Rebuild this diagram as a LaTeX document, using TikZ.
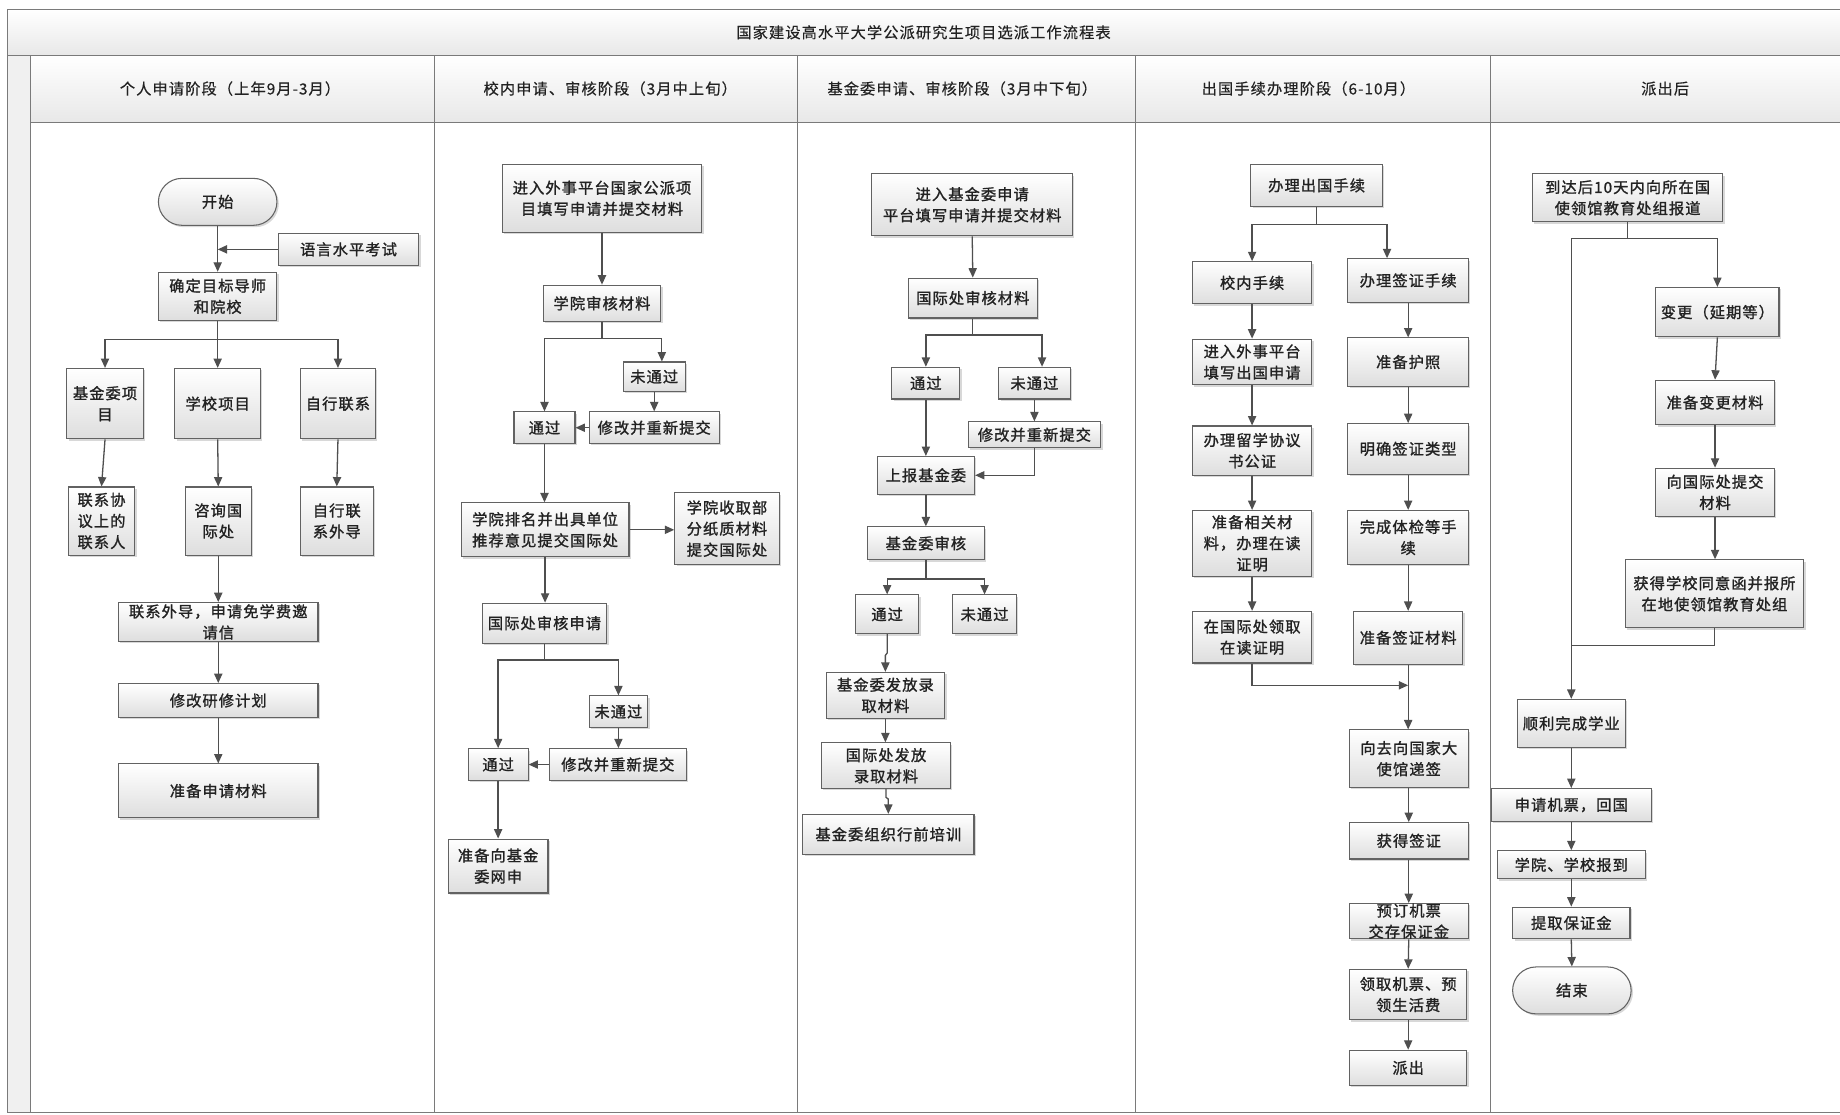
\documentclass[tikz,border=0pt]{standalone}
\usepackage{fontspec}
\setmainfont{Noto Sans CJK SC}
\newfontfamily\bxfont[LetterSpace=7,FakeBold=1.3]{Noto Sans CJK SC}
\newfontfamily\hdfont[LetterSpace=7,FakeBold=0.4]{Noto Sans CJK SC}
\usetikzlibrary{arrows.meta,shadows,calc}
\definecolor{linec}{HTML}{4F4F4F}
\definecolor{borderc}{HTML}{626262}
\definecolor{textc}{HTML}{222222}
\definecolor{stripc}{HTML}{F0F0F0}
\definecolor{framec}{HTML}{7A7A7A}
\tikzset{
  txt/.style={font=\bxfont\fontsize{13}{18}\selectfont, text=textc, align=center, inner sep=0pt},
  box/.style={txt, draw=borderc, line width=0.9pt, top color=white, bottom color=black!13,
    drop shadow={shadow xshift=1.6pt, shadow yshift=-1.6pt, opacity=0.25, fill=black!60}},
  sz/.style 2 args={minimum width=#1pt, minimum height=#2pt},
  term/.style={box, rounded corners=20pt},
  arr/.style={draw=linec, line width=1.1pt, -{Triangle[length=8pt,width=7pt]}},
  ln/.style={draw=linec, line width=1.1pt},
  frm/.style={draw=framec, line width=0.9pt},
  hdr/.style={txt, font=\hdfont\fontsize{13}{18}\selectfont},
}
\begin{document}
\begin{tikzpicture}[x=1pt,y=-1pt]
\useasboundingbox (0,0) rectangle (1568,950);
\clip (0,0) rectangle (1568,950);
\fill[white] (0,0) rectangle (1568,950);
% frame
\fill[stripc] (6,47) rectangle (26,948);
\shade[top color=white, bottom color=black!9] (6,8) rectangle (1580,47);
\shade[top color=white, bottom color=black!9] (26,47) rectangle (1580,104);
\draw[frm] (6,8) rectangle (1580,948);
\draw[frm] (6,47) -- (1580,47);
\draw[frm] (26,104) -- (1580,104);
\draw[frm] (26,47) -- (26,948);
\foreach \x in {370,680,968,1270.5} \draw[frm] (\x,47) -- (\x,948);
\node[hdr] (title) at (787,27.5) {国家建设高水平大学公派研究生项目选派工作流程表};
\node[hdr] (h1) at (196,75.5) {个人申请阶段（上年9月-3月）};
\node[hdr] (h2) at (520,75.5) {校内申请、审核阶段（3月中上旬）};
\node[hdr] (h3) at (820,75.5) {基金委申请、审核阶段（3月中下旬）};
\node[hdr] (h4) at (1115,75.5) {出国手续办理阶段（6-10月）};
\node[hdr] (h5) at (1419,75.5) {派出后};

% ---------- lane 1
\node[term, sz={101}{40}] (start) at (185.5,172) {开始};
\node[box, sz={120}{27}] (lang) at (297,212.5) {语言水平考试};
\node[box, sz={101}{41}] (target) at (185.5,252.5) {确定目标导师\\和院校};
\node[box, sz={65}{60}] (fund1) at (89.5,344) {基金委项\\目};
\node[box, sz={73}{60}] (school1) at (185.5,344) {学校项目};
\node[box, sz={64}{60}] (self1) at (288,344) {自行联系};
\node[box, sz={57}{58}] (contact1) at (86.5,444) {联系协\\议上的\\联系人};
\node[box, sz={56}{58}] (consult1) at (186,444) {咨询国\\际处};
\node[box, sz={62}{58}] (selfc1) at (287,444) {自行联\\系外导};
\node[box, sz={170}{33}] (outreach1) at (186,530) {联系外导，申请免学费邀\\请信};
\node[box, sz={170}{29}] (plan1) at (186,597) {修改研修计划};
\node[box, sz={170}{46}] (prep1) at (186,674) {准备申请材料};

\draw[arr] (start.south) -- (target.north);
\draw[arr] (lang.west) -- (start.south |- lang.west);
\draw[arr] (target.south) -- ++(0,16) -| (fund1.north);
\draw[arr] (target.south) -- (school1.north);
\draw[arr] (target.south) -- ++(0,16) -| (self1.north);
\draw[arr] (fund1.south) -- (contact1.north);
\draw[arr] (school1.south) -- (consult1.north);
\draw[arr] (self1.south) -- (selfc1.north);
\draw[arr] (consult1.south) -- (outreach1.north);
\draw[arr] (outreach1.south) -- (plan1.north);
\draw[arr] (plan1.south) -- (prep1.north);

% ---------- lane 2
\node[box, sz={170}{58}] (apply2) at (513,169) {进入外事平台国家公派项\\目填写申请并提交材料};
\node[box, sz={100}{31}] (review2) at (513,258.5) {学院审核材料};
\node[box, sz={53}{25}] (fail2a) at (557.5,321) {未通过};
\node[box, sz={52}{27}] (pass2a) at (464,364.5) {通过};
\node[box, sz={111}{27}] (fix2a) at (557.5,364.5) {修改并重新提交};
\node[box, sz={143}{46}] (rank2) at (464.5,451.5) {学院排名并出具单位\\推荐意见提交国际处};
\node[box, sz={89}{61}] (paper2) at (619.5,450.5) {学院收取部\\分纸质材料\\提交国际处};
\node[box, sz={106}{34}] (intl2) at (464,531) {国际处审核申请};
\node[box, sz={50}{27}] (fail2b) at (527,606.5) {未通过};
\node[box, sz={51}{27}] (pass2b) at (424.5,651.5) {通过};
\node[box, sz={117}{27}] (fix2b) at (526.5,651.5) {修改并重新提交};
\node[box, sz={85}{46}] (prep2) at (424.5,738) {准备向基金\\委网申};

\draw[arr] (apply2.south) -- (review2.north);
\draw[arr] (review2.south) -- ++(0,14) -| (pass2a.north);
\draw[arr] (review2.south) -- ++(0,14) -| ([xshift=6.5pt]fail2a.north);
\draw[arr] (fail2a.south) -- (fix2a.north);
\draw[arr] (fix2a.west) -- (pass2a.east);
\draw[arr] (pass2a.south) -- (pass2a.south |- rank2.north);
\draw[arr] (rank2.east) -- (rank2.east -| paper2.west);
\draw[arr] (rank2.south) -- (rank2.south |- intl2.north);
\draw[arr] (intl2.south) -- ++(0,14) -| (pass2b.north);
\draw[arr] (intl2.south) -- ++(0,14) -| (fail2b.north);
\draw[arr] (fail2b.south) -- (fail2b.south |- fix2b.north);
\draw[arr] (fix2b.west) -- (pass2b.east);
\draw[arr] (pass2b.south) -- (prep2.north);

% ---------- lane 3
\node[box, sz={171}{53}] (apply3) at (828.5,174.5) {进入基金委申请\\平台填写申请并提交材料};
\node[box, sz={110}{34}] (review3) at (829,254) {国际处审核材料};
\node[box, sz={58}{27}] (pass3a) at (789,326.5) {通过};
\node[box, sz={61}{27}] (fail3a) at (881.5,326.5) {未通过};
\node[box, sz={113}{22}] (fix3a) at (881.5,370.5) {修改并重新提交};
\node[box, sz={83}{32}] (report3) at (789,405) {上报基金委};
\node[box, sz={100}{28}] (fundrev3) at (789,463) {基金委审核};
\node[box, sz={54}{33}] (pass3b) at (756,523.5) {通过};
\node[box, sz={54}{33}] (fail3b) at (839,523.5) {未通过};
\node[box, sz={101}{39}] (issue3) at (754.5,592.5) {基金委发放录\\取材料};
\node[box, sz={110}{39}] (intl3) at (755,652.5) {国际处发放\\录取材料};
\node[box, sz={146}{34}] (train3) at (757,711) {基金委组织行前培训};

\draw[arr] (apply3.south) -- (review3.north);
\draw[arr] (review3.south) -- ++(0,14) -| (pass3a.north);
\draw[arr] (review3.south) -- ++(0,14) -| ([xshift=6.5pt]fail3a.north);
\draw[arr] (fail3a.south) -- (fix3a.north);
\draw[arr] (pass3a.south) -- (report3.north);
\draw[arr] (fix3a.south) |- (report3.east);
\draw[arr] (report3.south) -- (fundrev3.north);
\draw[arr] (fundrev3.south) -- ++(0,16) -| (pass3b.north);
\draw[arr] (fundrev3.south) -- ++(0,16) -| (fail3b.north);
\draw[arr] (pass3b.south) -- ++(0,16) -- ++(-1.5,2) -- (issue3.north);
\draw[arr] (issue3.south) -- (issue3.south |- intl3.north);
\draw[arr] (intl3.south) -- ++(0,7) -- ++(2,1.5) -- (train3.north);

% ---------- lane 4
\node[box, sz={112}{36}] (proc4) at (1122,158) {办理出国手续};
\node[box, sz={102}{36}] (inner4) at (1067,241) {校内手续};
\node[box, sz={103}{37}] (visa4) at (1200,239) {办理签证手续};
\node[box, sz={102}{39}] (wai4) at (1067,308.5) {进入外事平台\\填写出国申请};
\node[box, sz={102}{42}] (notary4) at (1067,384) {办理留学协议\\书公证};
\node[box, sz={102}{56}] (mat4) at (1067,463) {准备相关材\\料，办理在读\\证明};
\node[box, sz={102}{44}] (cert4) at (1067,543) {在国际处领取\\在读证明};
\node[box, sz={103}{41}] (passport4) at (1200,308.5) {准备护照};
\node[box, sz={103}{43}] (type4) at (1200,382.5) {明确签证类型};
\node[box, sz={103}{46}] (health4) at (1200,458) {完成体检等手\\续};
\node[box, sz={93}{45}] (vmat4) at (1200,543.5) {准备签证材料};
\node[box, sz={101}{49}] (embassy4) at (1200.5,646.5) {向去向国家大\\使馆递签};
\node[box, sz={101}{31}] (getvisa4) at (1200.5,716.5) {获得签证};
\node[box, sz={101}{30}] (ticket4) at (1200.5,785) {预订机票\\交存保证金};
\node[box, sz={100}{43}] (collect4) at (1200,847.5) {领取机票、预\\领生活费};
\node[box, sz={100}{30}] (depart4) at (1200,910) {派出};
\coordinate (j4) at (1200,584);

\draw[arr] (proc4.south) -- ++(0,15) -| (inner4.north);
\draw[arr] (proc4.south) -- ++(0,15) -| ([xshift=-18pt]visa4.north);
\draw[arr] (inner4.south) -- (wai4.north);
\draw[arr] (wai4.south) -- (notary4.north);
\draw[arr] (notary4.south) -- (mat4.north);
\draw[arr] (mat4.south) -- (cert4.north);
\draw[arr] (visa4.south) -- (passport4.north);
\draw[arr] (passport4.south) -- (type4.north);
\draw[arr] (type4.south) -- (health4.north);
\draw[arr] (health4.south) -- (vmat4.north);
\draw[arr] (vmat4.south) -- (vmat4.south |- embassy4.north);
\draw[arr] (cert4.south) |- (j4);
\draw[arr] (embassy4.south) -- (getvisa4.north);
\draw[arr] (getvisa4.south) -- (getvisa4.south |- ticket4.north);
\draw[arr] (ticket4.south) -- (collect4.north);
\draw[arr] (collect4.south) -- (depart4.north);

% ---------- lane 5
\node[box, sz={162}{41}] (arrive5) at (1387,168.5) {到达后10天内向所在国\\使领馆教育处组报道};
\node[box, sz={105}{42}] (change5) at (1463.5,266) {变更（延期等）};
\node[box, sz={101}{38}] (cmat5) at (1461.5,343) {准备变更材料};
\node[box, sz={101}{41}] (submit5) at (1461.5,419.5) {向国际处提交\\材料};
\node[box, sz={152}{58}] (approve5) at (1461,506) {获得学校同意函并报所\\在地使领馆教育处组};
\node[box, sz={92}{41}] (finish5) at (1339,616.5) {顺利完成学业};
\node[box, sz={136}{28}] (return5) at (1339,686) {申请机票，回国};
\node[box, sz={126}{24}] (report5) at (1339,737) {学院、学校报到};
\node[box, sz={100}{27}] (deposit5) at (1339,786.5) {提取保证金};
\node[term, sz={101}{40}] (end5) at (1339.5,844) {结束};
\coordinate (m5) at (1339,550);

\draw[arr] (arrive5.south) -- ++(0,14) -| (change5.north);
\draw[arr] (arrive5.south) -- ++(0,14) -| (finish5.north);
\draw[arr] (change5.south) -- (cmat5.north);
\draw[arr] (cmat5.south) -- (submit5.north);
\draw[arr] (submit5.south) -- (submit5.south |- approve5.north);
\draw[ln] (approve5.south) |- (m5);
\draw[arr] (finish5.south) -- (return5.north);
\draw[arr] (return5.south) -- (report5.north);
\draw[arr] (report5.south) -- (deposit5.north);
\draw[arr] (deposit5.south) -- (end5.north);
\end{tikzpicture}
\end{document}
